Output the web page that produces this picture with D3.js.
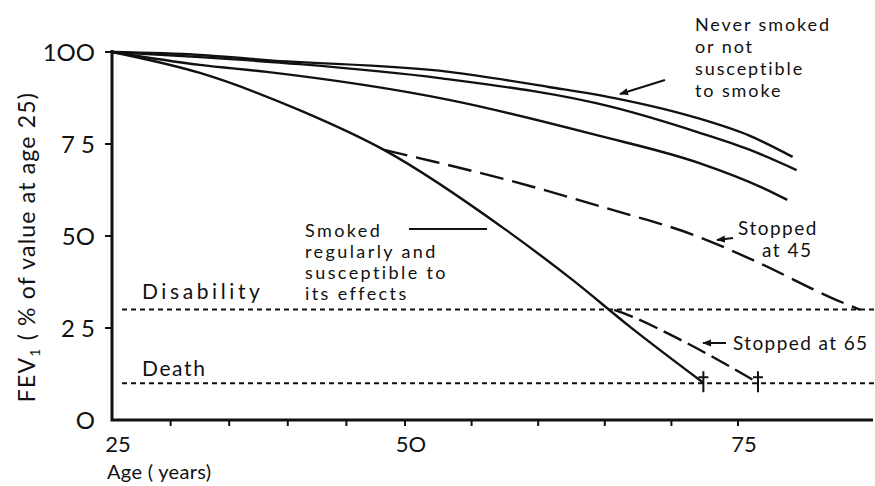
<!DOCTYPE html>
<html>
<head>
<meta charset="utf-8">
<script src="https://cdn.jsdelivr.net/npm/d3@7"></script>
<style>
  body { margin: 0; background: #fff; }
  svg { font-family: Lato, "Open Sans", sans-serif; }
</style>
</head>
<body>
<div id="chart"></div>
<script>
// ages / FEV1 values (% of value at age 25)
const nonSmokerUpper = [[25, 100], [32.5, 99.2], [38.2, 97.8], [53.3, 94.6], [60.8, 90.5], [66.1, 87.2], [71.9, 82.1], [75.9, 77.2], [79.1, 71.5]]
const nonSmokerMiddle = [[25, 100], [32.5, 98.6], [41, 96.7], [52.6, 92.9], [65.6, 85.0], [71.9, 78.3], [75.9, 73.4], [79.4, 67.9]]
const nonSmokerLower = [[25, 100], [32.5, 96.5], [38.2, 94.6], [53.3, 87.0], [64.4, 77.4], [72.1, 69.8], [76.9, 63.0], [78.7, 59.8]]
const smoker = [[25, 100], [32.5, 94.3], [41, 84.2], [48.2, 73.4], [57.6, 51.6], [62.6, 38.0], [66.9, 25.3], [72.4, 10.1]]
const stopped45 = [[48.2, 73.4], [52.3, 70.1], [57.1, 65.8], [64.8, 57.9], [72.1, 49.7], [76.1, 43.5], [82.4, 32.6], [84.2, 29.9]]
const stopped65 = [[65.7, 29.9], [66.9, 28.3], [70.4, 22.3], [74.6, 14.1], [76.5, 10.1]]

const disabilityLevel = 30
const deathLevel = 10
const yTicks = [0, 25, 50, 75, 100]
const yTickLabels = ['O', '2 5', '5O', '7 5', '1OO']
const xLabelTicks = [25, 50, 75]
const xLabels = ['25', '5O', '75']
const xMinorTicks = [30, 35, 40, 45, 50, 55, 60, 65, 70, 75]

const width = 875, height = 486
const ink = '#111'

const svg = d3.select('#chart')
  .append('svg')
    .attr('width', width)
    .attr('height', height)

// the hand-drawn axis is slightly stretched after 50
const x = d3.scaleLinear().domain([25, 50, 75]).range([112, 405, 738])
const y = d3.scaleLinear().domain([0, 100]).range([420, 52])
const xEnd = 873

svg.append('defs').append('marker')
    .attr('id', 'arrow')
    .attr('viewBox', '0 0 10 10')
    .attr('refX', 9).attr('refY', 5)
    .attr('markerWidth', 9).attr('markerHeight', 9)
    .attr('markerUnits', 'userSpaceOnUse')
    .attr('orient', 'auto')
  .append('path')
    .attr('d', 'M0,1 L10,5 L0,9 Z')
    .attr('fill', ink)

// axes
svg.append('path')
    .attr('d', `M${x(25)},${y(100) - 2} V${y(0)} H${xEnd}`)
    .attr('fill', 'none')
    .attr('stroke', ink)
    .attr('stroke-width', 3)

svg.append('g')
  .selectAll('line')
  .data(yTicks.filter(d => d > 0)).enter()
  .append('line')
    .attr('x1', x(25) - 7).attr('x2', x(25))
    .attr('y1', d => y(d)).attr('y2', d => y(d))
    .attr('stroke', ink).attr('stroke-width', 2)

svg.append('g')
  .selectAll('line')
  .data(xMinorTicks).enter()
  .append('line')
    .attr('x1', d => x(d)).attr('x2', d => x(d))
    .attr('y1', y(0)).attr('y2', y(0) + 6)
    .attr('stroke', ink).attr('stroke-width', 2)

svg.append('g')
    .attr('font-size', 24)
    .attr('fill', ink)
    .attr('text-anchor', 'end')
  .selectAll('text')
  .data(yTicks).enter()
  .append('text')
    .attr('x', 95)
    .attr('y', d => y(d))
    .attr('dy', '0.36em')
    .text((d, i) => yTickLabels[i])

svg.append('g')
    .attr('font-size', 22)
    .attr('fill', ink)
    .attr('text-anchor', 'middle')
  .selectAll('text')
  .data(xLabelTicks).enter()
  .append('text')
    .attr('x', d => x(d) + 6)
    .attr('y', 452)
    .text((d, i) => xLabels[i])

svg.append('text')
    .attr('x', 107).attr('y', 479)
    .attr('font-size', 20)
    .attr('letter-spacing', 0.3)
    .attr('fill', ink)
    .text('Age ( years)')

const yTitle = svg.append('text')
    .attr('transform', 'translate(35,247) rotate(-90)')
    .attr('text-anchor', 'middle')
    .attr('font-size', 23)
    .attr('letter-spacing', 1.2)
    .attr('fill', ink)
yTitle.append('tspan').text('FEV')
yTitle.append('tspan').attr('font-size', 14).attr('dy', 5).text('1')
yTitle.append('tspan').attr('dy', -5).text('  ( % of value at age 25)')

// threshold lines
svg.append('g')
  .selectAll('line')
  .data([disabilityLevel, deathLevel]).enter()
  .append('line')
    .attr('x1', 122).attr('x2', width)
    .attr('y1', d => y(d)).attr('y2', d => y(d))
    .attr('stroke', ink)
    .attr('stroke-width', 2)
    .attr('stroke-dasharray', '5,4')

svg.append('text').attr('x', 142).attr('y', 299)
    .attr('font-size', 21).attr('letter-spacing', 3.6)
    .attr('fill', ink).text('Disability')
svg.append('text').attr('x', 142).attr('y', 376)
    .attr('font-size', 21).attr('letter-spacing', 1.6)
    .attr('fill', ink).text('Death')

// curves
const line = d3.line()
  .x(d => x(d[0]))
  .y(d => y(d[1]))
  .curve(d3.curveMonotoneX)

const series = [
  { data: nonSmokerUpper, dash: null },
  { data: nonSmokerMiddle, dash: null },
  { data: nonSmokerLower, dash: null },
  { data: smoker, dash: null },
  { data: stopped45, dash: '24,9' },
  { data: stopped65, dash: '20,7' }
]

svg.append('g')
    .attr('fill', 'none')
    .attr('stroke', ink)
    .attr('stroke-width', 2.4)
  .selectAll('path')
  .data(series).enter()
  .append('path')
    .attr('d', d => line(d.data))
    .attr('stroke-dasharray', d => d.dash)

// daggers where the curves reach the death level
const daggers = [smoker[smoker.length - 1], stopped65[stopped65.length - 1]]
svg.append('g')
    .attr('stroke', ink)
    .attr('stroke-width', 2)
  .selectAll('path')
  .data(daggers).enter()
  .append('path')
    .attr('d', d => `M${x(d[0])},${y(deathLevel) - 12} V${y(deathLevel) + 9} M${x(d[0]) - 5},${y(deathLevel) - 6} H${x(d[0]) + 5}`)

// annotations
function label (lines, px, py, size, lh, spacing) {
  const t = svg.append('text')
      .attr('font-size', size)
      .attr('letter-spacing', spacing)
      .attr('fill', ink)
  lines.forEach((s, i) => {
    t.append('tspan').attr('x', px[i] !== undefined ? px[i] : px[0]).attr('y', py + i * lh).text(s)
  })
}

label(['Never smoked', 'or not', 'susceptible', 'to smoke'], [695], 31, 18, 22, 1.9)
label(['Smoked', 'regularly and', 'susceptible to', 'its effects'], [305], 237, 18, 21, 2.4)
label(['Stopped', 'at 45'], [738, 762], 235, 19, 22, 1.5)
label(['Stopped at 65'], [733], 350, 19, 0, 1.4)

const arrows = [
  [[665, 80], [620, 94]],
  [[733, 238], [717, 240]],
  [[726, 343], [703, 343]]
]
svg.append('g')
    .attr('stroke', ink)
    .attr('stroke-width', 2)
  .selectAll('line')
  .data(arrows).enter()
  .append('line')
    .attr('x1', d => d[0][0]).attr('y1', d => d[0][1])
    .attr('x2', d => d[1][0]).attr('y2', d => d[1][1])
    .attr('marker-end', 'url(#arrow)')

svg.append('line')
    .attr('x1', 409).attr('x2', 487)
    .attr('y1', 229).attr('y2', 229)
    .attr('stroke', ink).attr('stroke-width', 2)
</script>
</body>
</html>
